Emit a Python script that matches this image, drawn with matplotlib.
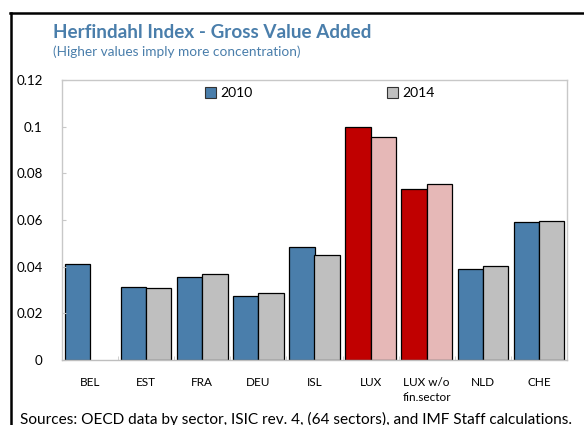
import matplotlib.pyplot as plt
import numpy as np
from matplotlib.lines import Line2D
from matplotlib.patches import Patch

plt.rcParams['font.family'] = ['Lato', 'DejaVu Sans']

# data
countries = ['BEL', 'EST', 'FRA', 'DEU', 'ISL', 'LUX', 'LUX w/o\nfin.sector', 'NLD', 'CHE']
v2010 = [0.0410, 0.0314, 0.0357, 0.0276, 0.0483, 0.1000, 0.0731, 0.0389, 0.0591]
v2014 = [0.0, 0.0310, 0.0367, 0.0286, 0.0449, 0.0957, 0.0756, 0.0401, 0.0594]
highlight = ['LUX', 'LUX w/o\nfin.sector']

blue = '#4A7EAB'
grey = '#BFBFBF'
red = '#C00000'
pink = '#E6B8B7'
title_col = '#4A7EAB'

fig = plt.figure(figsize=(5.84, 4.25), dpi=100)
ax = fig.add_axes([62/584, 1-360/425, (567-62)/584, (360-80)/425])

x = np.arange(len(countries))
w = 0.45
c1 = [red if c in highlight else blue for c in countries]
c2 = [pink if c in highlight else grey for c in countries]
ax.bar(x - w/2, v2010, w, color=c1, edgecolor='black', linewidth=0.9)
b2 = [val if val > 0 else np.nan for val in v2014]
ax.bar(x + w/2, b2, w, color=c2, edgecolor='black', linewidth=0.9)

ax.set_xlim(-0.5, len(countries) - 0.5)
ax.set_ylim(0, 0.12)
ax.set_yticks([0, 0.02, 0.04, 0.06, 0.08, 0.1, 0.12])
ax.set_yticklabels(['0', '0.02', '0.04', '0.06', '0.08', '0.1', '0.12'], fontsize=9.6)
ax.set_xticks(x)
ax.set_xticklabels(countries, fontsize=8.5, linespacing=1.5)
ax.tick_params(axis='x', length=0, pad=12)
ax.set_xticks(np.arange(0.5, len(countries) - 1, 1), minor=True)
ax.tick_params(axis='x', which='minor', direction='in', length=3, color='#C8C8C8')
ax.tick_params(axis='y', direction='in', length=3, color='#C8C8C8', pad=14)
for s in ax.spines.values():
    s.set_color('#C8C8C8')
    s.set_linewidth(1.0)
ax.spines['bottom'].set_color('#BEBEBE')

handles = [Patch(facecolor=blue, edgecolor='#333333', linewidth=0.8),
           Patch(facecolor=grey, edgecolor='#333333', linewidth=0.8)]
ax.legend(handles, ['2010', '2014'], loc='upper center', ncol=2, frameon=False,
          fontsize=10, handlelength=0.8, handleheight=0.8, handletextpad=0.3,
          columnspacing=9.7, bbox_to_anchor=(0.51, 1.005), borderaxespad=0.2)

fig.text(53/584, 1-32/425, 'Herfindahl Index - Gross Value Added', fontsize=13.6,
         fontweight='bold', color=title_col, va='center', ha='left')
fig.text(53/584, 1-52/425, '(Higher values imply more concentration)', fontsize=9.8,
         color=title_col, va='center', ha='left')
fig.text(20/584, 1-419/425, 'Sources: OECD data by sector, ISIC rev. 4, (64 sectors), and IMF Staff calculations.',
         fontsize=11.1, va='center', ha='left')

# frame around the figure (left and top edges visible)
fig.add_artist(Line2D([10.5/584, 10.5/584], [0, 1-12.5/425], transform=fig.transFigure,
                      color='black', linewidth=1.8))
fig.add_artist(Line2D([10/584, 1], [1-12.5/425, 1-12.5/425], transform=fig.transFigure,
                      color='black', linewidth=1.8))

fig.savefig('out.png', dpi=100)
